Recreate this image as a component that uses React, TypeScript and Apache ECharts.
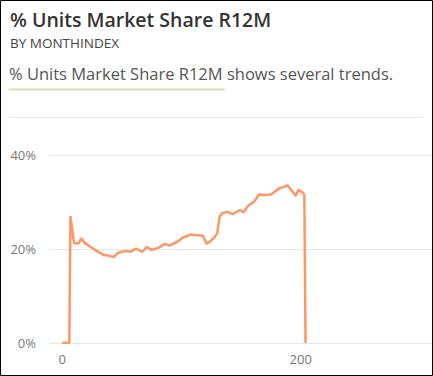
import React, { useEffect, useRef } from "react";
import * as echarts from "echarts";

const monthIndex = [0, 6, 7, 10, 14, 16, 19, 23, 29, 35, 39, 43, 47, 53, 57, 62, 67, 71, 75, 81, 86, 90, 97, 101, 108, 113, 118, 121, 124, 127, 130, 132, 134, 139, 143, 149, 152, 156, 161, 165, 170, 175, 182, 189, 196, 198, 202, 203, 204];
const share = [0, 0, 27, 21.2, 21.2, 22.3, 21.3, 20.6, 19.6, 18.7, 18.6, 18.3, 19.2, 19.6, 19.4, 20.1, 19.4, 20.4, 19.8, 20.3, 21.1, 20.7, 21.6, 22.4, 23.1, 22.9, 22.8, 21.1, 21.6, 22.3, 23.3, 26.9, 27.6, 27.9, 27.4, 28.3, 27.8, 29.2, 30.1, 31.6, 31.5, 31.6, 32.9, 33.5, 31.3, 32.6, 31.9, 31.5, 0];
const yTicks = [0, 20, 40];
const xTickLabels = [0, 200];

const title = "% Units Market Share R12M";
const subtitle = "BY MONTHINDEX";
const narrativeLink = "% Units Market Share R12M";
const narrativeRest = " shows several trends.";

function measure(text: string, font: string): number {
  const c = document.createElement("canvas").getContext("2d");
  if (!c) return text.length * 8;
  c.font = font;
  return c.measureText(text).width;
}

export default function App() {
  const ref = useRef<HTMLDivElement>(null);
  useEffect(() => {
    if (!ref.current) return;
    const chart = echarts.init(ref.current, null, { renderer: "svg" });
    const font = "Open Sans";
    const linkW = measure(narrativeLink, `16.5px "Open Sans"`);
    chart.setOption({
      animation: false,
      textStyle: { fontFamily: font },
      grid: { left: 49, right: 1, top: 155, bottom: 33, containLabel: false },
      xAxis: {
        type: "value",
        min: -11,
        max: 310,
        axisLine: { show: false },
        axisTick: { show: false },
        splitLine: { show: false },
        axisLabel: {
          customValues: xTickLabels,
          color: "#777",
          fontSize: 13,
          margin: 9,
          fontFamily: font,
        },
      },
      yAxis: {
        type: "value",
        min: yTicks[0],
        max: yTicks[yTicks.length - 1],
        interval: 20,
        axisLine: { show: false },
        axisTick: { show: false },
        splitLine: { lineStyle: { color: "#e8e8e8", width: 1 } },
        axisLabel: {
          formatter: "{value}%",
          color: "#777",
          fontSize: 13,
          margin: 13,
          fontFamily: font,
        },
      },
      series: [
        {
          type: "line",
          data: monthIndex.map((m, i) => [m, share[i]]),
          showSymbol: false,
          symbol: "none",
          lineStyle: { color: "#FE9666", width: 2.5 },
          itemStyle: { color: "#FE9666" },
        },
      ],
      graphic: [
        {
          type: "rect",
          shape: { x: 0.5, y: 0.5, width: 432, height: 375 },
          style: { fill: "none", stroke: "#000", lineWidth: 1 },
          silent: true,
        },
        {
          type: "text",
          left: 10,
          top: 9,
          style: { text: title, fill: "#333", fontSize: 19.5, fontWeight: 600, fontFamily: font },
        },
        {
          type: "text",
          left: 10,
          top: 36,
          style: { text: subtitle, fill: "#444", fontSize: 13.5, fontFamily: font },
        },
        {
          type: "text",
          left: 9,
          top: 65,
          style: { text: narrativeLink + narrativeRest, fill: "#555", fontSize: 16.5, fontFamily: font },
        },
        {
          type: "line",
          shape: { x1: 9, y1: 89.5, x2: 9 + linkW + 2, y2: 89.5 },
          style: { stroke: "#dcdcb4", lineWidth: 2 },
        },
        {
          type: "line",
          shape: { x1: 9, y1: 117.5, x2: 423, y2: 117.5 },
          style: { stroke: "#e8e8e8", lineWidth: 1 },
        },
      ],
    });
    return () => chart.dispose();
  }, []);
  return (
    <div
      ref={ref}
      style={{ position: "fixed", left: 0, top: 0, width: 433, height: 376, background: "#fff" }}
    />
  );
}
